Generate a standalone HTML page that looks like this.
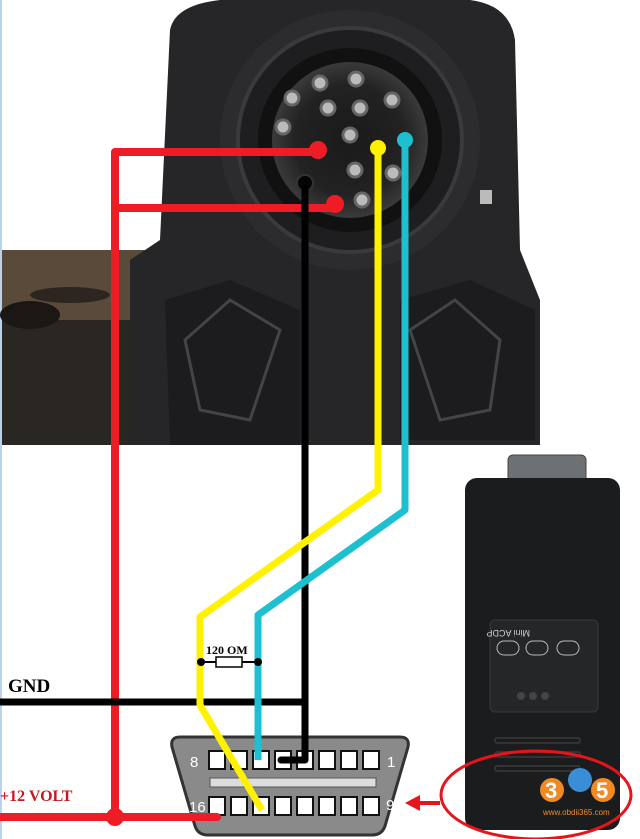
<!DOCTYPE html>
<html><head><meta charset="utf-8"><style>html,body{margin:0;padding:0;background:#fff}svg{display:block}</style></head>
<body>
<svg width="640" height="839" viewBox="0 0 640 839" xmlns="http://www.w3.org/2000/svg">
<defs>
<radialGradient id="cg" cx="0.5" cy="0.5" r="0.5"><stop offset="0" stop-color="#1a1a1a"/><stop offset="0.7" stop-color="#222"/><stop offset="1" stop-color="#3a3a3a"/></radialGradient>
</defs>
<rect width="640" height="839" fill="#fff"/>
<rect x="0" y="0" width="2" height="839" fill="#b9d3ea"/>
<rect x="2" y="250" width="170" height="195" fill="#2a2622"/>
<rect x="2" y="250" width="170" height="70" fill="#5a4a3a"/>
<ellipse cx="30" cy="315" rx="30" ry="14" fill="#1a1714"/>
<ellipse cx="70" cy="295" rx="40" ry="8" fill="#2d2620"/>
<path d="M170 30 Q175 5 220 0 L470 0 Q510 5 515 40 L520 250 L540 300 L540 445 L130 445 L130 260 L160 240 Z" fill="#262628"/>
<path d="M165 300 L230 280 L300 310 L300 445 L170 445 Z" fill="#1c1c1e"/>
<path d="M400 300 L470 280 L535 310 L535 440 L400 440 Z" fill="#1c1c1e"/>
<path d="M185 340 L230 300 L280 330 L250 420 L200 410 Z" fill="none" stroke="#444" stroke-width="3"/>
<path d="M500 340 L455 300 L410 330 L440 420 L490 410 Z" fill="none" stroke="#444" stroke-width="3"/>
<circle cx="350" cy="140" r="130" fill="#2c2c2e"/>
<circle cx="350" cy="140" r="112" fill="#1e1e20" stroke="#3a3a3c" stroke-width="4"/>
<circle cx="350" cy="140" r="92" fill="#111"/>
<circle cx="350" cy="140" r="78" fill="url(#cg)"/>
<g fill="#bbb" stroke="#666" stroke-width="3">
<circle cx="320" cy="83" r="7"/><circle cx="356" cy="79" r="7"/><circle cx="292" cy="98" r="7"/>
<circle cx="328" cy="108" r="7"/><circle cx="360" cy="108" r="7"/><circle cx="392" cy="100" r="7"/>
<circle cx="283" cy="127" r="7"/><circle cx="350" cy="135" r="7"/><circle cx="355" cy="170" r="7"/>
<circle cx="393" cy="173" r="7"/><circle cx="362" cy="200" r="7"/>
</g>
<circle cx="305" cy="183" r="8" fill="#050505" stroke="#333" stroke-width="2"/>
<rect x="480" y="190" width="12" height="14" fill="#bbb"/>
<!-- OBD connector -->
<path d="M180 737 L400 737 Q410 737 408 747 L385 826 Q382 835 372 835 L208 835 Q198 835 195 826 L172 747 Q170 737 180 737 Z" fill="#8a8a8a" stroke="#333" stroke-width="3"/>
<g fill="#fff" stroke="#111" stroke-width="2">
<rect x="209" y="751" width="16" height="18"/><rect x="231" y="751" width="16" height="18"/><rect x="253" y="751" width="16" height="18"/><rect x="275" y="751" width="16" height="18"/><rect x="297" y="751" width="16" height="18"/><rect x="319" y="751" width="16" height="18"/><rect x="341" y="751" width="16" height="18"/><rect x="363" y="751" width="16" height="18"/>
<rect x="209" y="797" width="16" height="18"/><rect x="231" y="797" width="16" height="18"/><rect x="253" y="797" width="16" height="18"/><rect x="275" y="797" width="16" height="18"/><rect x="297" y="797" width="16" height="18"/><rect x="319" y="797" width="16" height="18"/><rect x="341" y="797" width="16" height="18"/><rect x="363" y="797" width="16" height="18"/>
</g>
<rect x="210" y="778" width="166" height="9" fill="#ddd" stroke="#555"/>
<g font-family="Liberation Sans,sans-serif" font-size="15" fill="#fff"><text x="190" y="767">8</text><text x="387" y="767">1</text><text x="189" y="812">16</text><text x="386" y="810">9</text></g>
<!-- wires -->
<g fill="none" stroke-linejoin="round">
<polyline points="318,152 115,152 115,817" stroke="#ee1c25" stroke-width="8"/>
<polyline points="335,208 115,208" stroke="#ee1c25" stroke-width="8"/>
<polyline points="0,817 217,817" stroke="#ee1c25" stroke-width="8" stroke-linecap="round"/>
<polyline points="305,185 305,760" stroke="#000" stroke-width="7"/>
<line x1="281" y1="760" x2="305" y2="760" stroke="#000" stroke-width="7" stroke-linecap="round"/>
<polyline points="0,702 305,702" stroke="#000" stroke-width="7"/>
<polyline points="378,150 378,490 200,617 200,705 262,810" stroke="#fff200" stroke-width="7"/>
<polyline points="405,140 405,510 258,615 258,760" stroke="#1ec0d0" stroke-width="7"/>
</g>
<circle cx="318" cy="150" r="9" fill="#ee1c25"/><circle cx="335" cy="204" r="9" fill="#ee1c25"/>
<circle cx="378" cy="148" r="8" fill="#fff200"/><circle cx="405" cy="140" r="8" fill="#1ec0d0"/>
<circle cx="115" cy="817" r="9" fill="#ee1c25"/>
<line x1="200" y1="662" x2="258" y2="662" stroke="#000" stroke-width="2"/>
<rect x="216" y="657" width="26" height="10" fill="#fff" stroke="#000" stroke-width="1.5"/>
<circle cx="201" cy="662" r="4" fill="#000"/><circle cx="258" cy="662" r="4" fill="#000"/>
<text x="206" y="654" font-family="Liberation Serif,serif" font-weight="bold" font-size="12">120 OM</text>
<text x="8" y="692" font-family="Liberation Serif,serif" font-weight="bold" font-size="19">GND</text>
<text x="0" y="801" font-family="Liberation Serif,serif" font-weight="bold" font-size="16" fill="#c8171e">+12 VOLT</text>
<!-- device -->
<rect x="508" y="455" width="78" height="28" rx="5" fill="#6e7174" stroke="#444"/>
<rect x="465" y="478" width="155" height="352" rx="12" fill="#1b1c1d"/>
<rect x="490" y="620" width="108" height="92" rx="5" fill="#252627" stroke="#3a3a3a"/>
<text x="560" y="636" font-family="Liberation Sans,sans-serif" font-size="9" fill="#ccc" transform="rotate(180 545 633)">Mini ACDP</text>
<g fill="none" stroke="#bbb" stroke-width="1"><rect x="497" y="641" width="22" height="14" rx="7"/><rect x="526" y="641" width="22" height="14" rx="7"/><rect x="557" y="641" width="22" height="14" rx="7"/></g>
<g fill="#444"><circle cx="521" cy="696" r="4"/><circle cx="533" cy="696" r="4"/><circle cx="545" cy="696" r="4"/></g>
<g stroke="#333" stroke-width="2" fill="none"><rect x="495" y="738" width="85" height="5" rx="2"/><rect x="495" y="752" width="85" height="5" rx="2"/><rect x="495" y="766" width="85" height="5" rx="2"/></g>
<ellipse cx="536" cy="795" rx="95" ry="44" fill="none" stroke="#e8141c" stroke-width="3"/>
<line x1="440" y1="803" x2="418" y2="803" stroke="#e8141c" stroke-width="4"/>
<polygon points="405,803 420,795 420,811" fill="#e8141c"/>
<g font-family="Liberation Sans,sans-serif" font-weight="bold" font-size="22"><circle cx="552" cy="790" r="12" fill="#f08a24"/><text x="545" y="798" fill="#fff">3</text><circle cx="580" cy="780" r="12" fill="#3a8ed8"/><circle cx="603" cy="790" r="12" fill="#f08a24"/><text x="596" y="798" fill="#fff">5</text></g>
<text x="543" y="815" font-family="Liberation Sans,sans-serif" font-size="8" fill="#f08a24">www.obdii365.com</text>
</svg>
</body></html>
